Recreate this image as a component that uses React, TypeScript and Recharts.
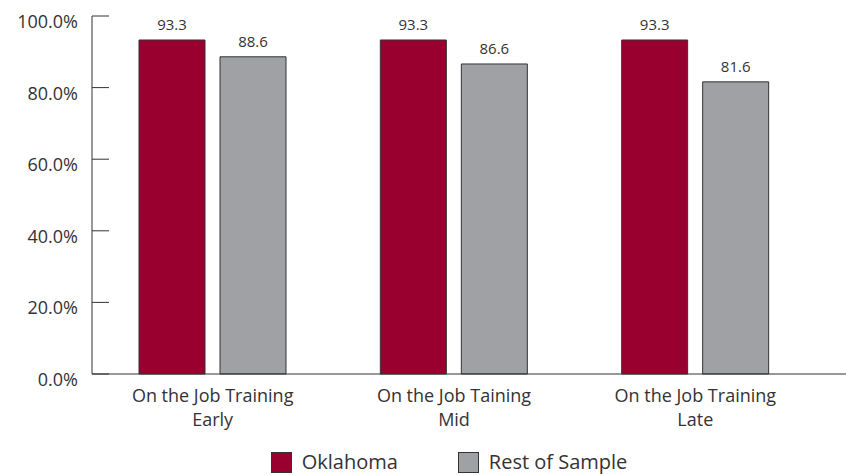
import { BarChart, Bar, XAxis, YAxis, Legend, LabelList } from 'recharts'

const categories = [
  'On the Job Training\nEarly',
  'On the Job Taining\nMid',
  'On the Job Training\nLate',
]
const oklahoma = [93.3, 93.3, 93.3]
const restOfSample = [88.6, 86.6, 81.6]
const yTicks = [0, 20, 40, 60, 80, 100]

const data = categories.map((name, i) => ({
  name,
  oklahoma: oklahoma[i],
  rest: restOfSample[i],
}))

const FONT = '"Open Sans", Lato, sans-serif'
const RED = '#990030'
const GREY = '#a0a1a5'
const INK = '#333333'

// y ticks point into the plot, labels sit slightly low like the original
function YTick(props: any) {
  const { x, y, payload } = props
  const axisX = x + 14
  return (
    <g>
      <line x1={axisX} x2={axisX + 17} y1={y} y2={y} stroke={INK} strokeWidth={1} />
      <text x={x} y={y} dy={12} textAnchor="end" fontSize={18} fill={INK} fontFamily={FONT}>
        {`${payload.value.toFixed(1)}%`}
      </text>
    </g>
  )
}

function XTick(props: any) {
  const { x, y, payload } = props
  const lines = String(payload.value).split('\n')
  return (
    <g>
      {lines.map((l, i) => (
        <text
          key={i}
          x={x}
          y={y + 20 + i * 24}
          textAnchor="middle"
          fontSize={18}
          fill={INK}
          fontFamily={FONT}
        >
          {l}
        </text>
      ))}
    </g>
  )
}

function LegendContent() {
  const items = [
    { label: 'Oklahoma', color: RED },
    { label: 'Rest of Sample', color: GREY },
  ]
  return (
    <div
      style={{
        display: 'flex',
        justifyContent: 'center',
        alignItems: 'center',
        gap: 60,
        paddingLeft: 52,
        fontFamily: FONT,
        height: 32,
      }}
    >
      {items.map((it) => (
        <div key={it.label} style={{ display: 'flex', alignItems: 'center' }}>
          <span
            style={{
              width: 19,
              height: 19,
              background: it.color,
              border: `1px solid ${INK}`,
              marginRight: 10,
            }}
          />
          <span style={{ fontSize: 20, lineHeight: '28px', color: INK }}>{it.label}</span>
        </div>
      ))}
    </div>
  )
}

export default function App() {
  return (
    <div style={{ position: 'absolute', left: 0, top: 0, background: '#fff' }}>
      <BarChart
        width={846}
        height={475}
        data={data}
        margin={{ top: 16, right: 0, left: 0, bottom: 68 }}
        barSize={66}
        barGap={15}
      >
        <XAxis
          dataKey="name"
          tick={<XTick />}
          tickLine={false}
          axisLine={{ stroke: INK }}
          padding={{ left: 0, right: 30 }}
          height={1}
          interval={0}
        />
        <YAxis
          domain={[0, 100]}
          ticks={yTicks}
          width={92}
          tickSize={0}
          tickMargin={14}
          tickLine={false}
          axisLine={{ stroke: INK }}
          tick={<YTick />}
        />
        <Legend
          content={<LegendContent />}
          wrapperStyle={{ position: 'absolute', top: 446, left: 0, width: 846, bottom: 'auto' }}
        />
        <Bar dataKey="oklahoma" fill={RED} stroke={INK} strokeWidth={1} isAnimationActive={false}>
          <LabelList dataKey="oklahoma" position="top" offset={10} fontSize={15} fill={INK} fontFamily={FONT} />
        </Bar>
        <Bar dataKey="rest" fill={GREY} stroke={INK} strokeWidth={1} isAnimationActive={false}>
          <LabelList dataKey="rest" position="top" offset={10} fontSize={15} fill={INK} fontFamily={FONT} />
        </Bar>
      </BarChart>
    </div>
  )
}
